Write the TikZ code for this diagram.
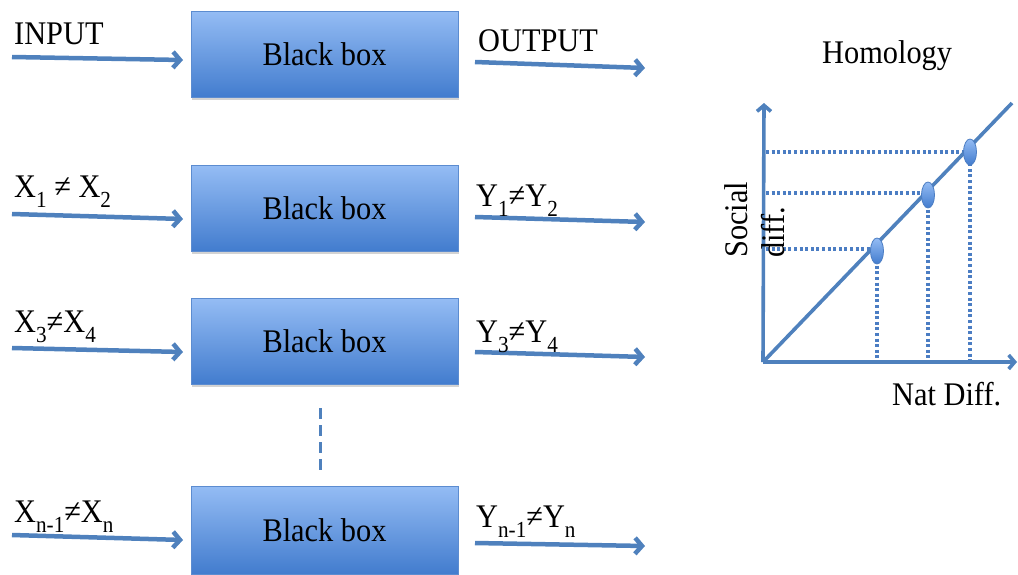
\documentclass[tikz,border=0pt]{standalone}
\usepackage{fontspec}
\setmainfont[FakeStretch=0.92]{Liberation Serif}
\usetikzlibrary{arrows.meta,shadows,shapes.geometric}
\definecolor{arrowblue}{RGB}{79,129,189}
\definecolor{boxtop}{RGB}{148,188,244}
\definecolor{boxbot}{RGB}{66,124,206}
\definecolor{boxline}{RGB}{92,140,208}
\definecolor{dotblue}{RGB}{75,125,195}
\newcommand\sbx[1]{\raisebox{-0.32em}{\fontsize{23}{23}\selectfont #1}}
\begin{document}
\begin{tikzpicture}[x=1pt,y=-1pt,
  bbox/.style={draw=boxline, line width=0.6pt, top color=boxtop, bottom color=boxbot,
    minimum width=267pt, minimum height=86pt, inner sep=0pt,
    drop shadow={opacity=0.35, shadow xshift=0.5pt, shadow yshift=-2.5pt},
    font=\fontsize{33}{37}\selectfont},
  flow/.style={draw=arrowblue, line width=4.5pt, -{Straight Barb[length=7pt,width=16pt]}},
  lbl/.style={anchor=base west, inner sep=0pt, font=\fontsize{33}{37}\selectfont},
  axis/.style={draw=arrowblue, line width=3.6pt, -{Straight Barb[length=6pt,width=14pt]}},
  dots/.style={draw=dotblue, line width=3.2pt, dash pattern=on 3pt off 2.6pt},
  pt/.style={ellipse, draw=dotblue, line width=0.8pt, top color=boxtop, bottom color=boxbot,
    minimum width=13pt, minimum height=26pt, inner sep=0pt}]
\useasboundingbox (0,0) rectangle (1018,574);

% boxes
\node[bbox] (b1) at (324.5,54.5) {Black box};
\node[bbox] (b2) at (324.5,208.5) {Black box};
\node[bbox] (b3) at (324.5,341.5) {Black box};
\node[bbox, minimum height=88pt] (b4) at (324.5,530) {Black box};

% dashed continuation
\coordinate (d1) at (320,408);
\coordinate (d2) at (320,475);
\draw[draw=arrowblue, line width=3pt, dash pattern=on 11pt off 6pt] (d1) -- (d2);

% input arrows
\coordinate (i1) at (12,57);  \coordinate (i1e) at (183,60);
\coordinate (i2) at (12,214); \coordinate (i2e) at (183,219);
\coordinate (i3) at (12,348); \coordinate (i3e) at (183,352);
\coordinate (i4) at (12,535); \coordinate (i4e) at (183,540);
\draw[flow] (i1) -- (i1e);
\draw[flow] (i2) -- (i2e);
\draw[flow] (i3) -- (i3e);
\draw[flow] (i4) -- (i4e);

% output arrows
\coordinate (o1) at (475,62);  \coordinate (o1e) at (645,68);
\coordinate (o2) at (475,217); \coordinate (o2e) at (645,222);
\coordinate (o3) at (475,352); \coordinate (o3e) at (645,357);
\coordinate (o4) at (475,543); \coordinate (o4e) at (645,546);
\draw[flow] (o1) -- (o1e);
\draw[flow] (o2) -- (o2e);
\draw[flow] (o3) -- (o3e);
\draw[flow] (o4) -- (o4e);

% labels
\node[lbl] (lin) at (14,44) {INPUT};
\node[lbl] (lout) at (478,51) {OUTPUT};
\node[lbl] (lx12) at (14,197) {X\sbx{1} ≠ X\sbx{2}};
\node[lbl] (ly12) at (476,206) {Y\sbx{1}≠Y\sbx{2}};
\node[lbl] (lx34) at (14,332) {X\sbx{3}≠X\sbx{4}};
\node[lbl] (ly34) at (476,342) {Y\sbx{3}≠Y\sbx{4}};
\node[lbl] (lxn) at (14,522) {X\sbx{n-1}≠X\sbx{n}};
\node[lbl] (lyn) at (476,527) {Y\sbx{n-1}≠Y\sbx{n}};

% homology graph
\node[lbl] (hom) at (822,63) {Homology};
\coordinate (O) at (763,362);
\coordinate (ytip) at (764,103);
\coordinate (xtip) at (1017,362);
\coordinate (dend) at (1012,103);
\coordinate (h1) at (766,249); \coordinate (v1) at (877,362);
\coordinate (h2) at (766,193); \coordinate (v2) at (928,362);
\coordinate (h3) at (766,152); \coordinate (v3) at (970,362);

\draw[dots] (h1) -- (877,249);
\draw[dots] (h2) -- (928,193);
\draw[dots] (h3) -- (970,152);
\draw[dots] (877,249) -- (v1);
\draw[dots] (928,193) -- (v2);
\draw[dots] (970,152) -- (v3);

\draw[axis] (O) -- (ytip);
\draw[axis] (O) -- (xtip);
\draw[draw=arrowblue, line width=3.6pt] (O) -- (dend);

\node[pt] (p1) at (877,251) {};
\node[pt] (p2) at (928,195) {};
\node[pt] (p3) at (970,152) {};

\node[rotate=90, anchor=north west, inner sep=0pt, align=left,
  font=\fontsize{33}{37}\selectfont] (soc) at (724,258) {Social\\diff.};
\node[lbl] (nat) at (892,405) {Nat Diff.};
\end{tikzpicture}
\end{document}
